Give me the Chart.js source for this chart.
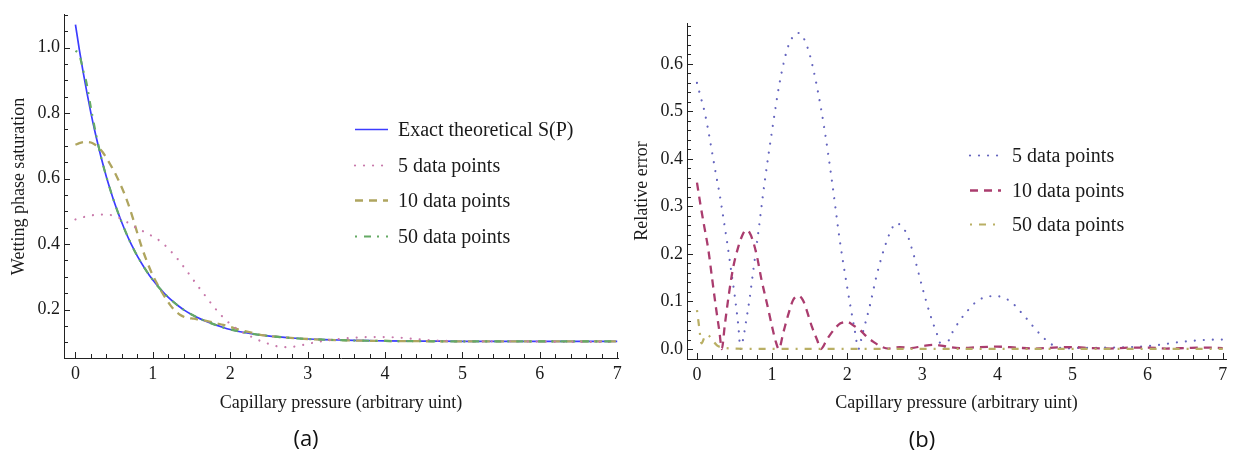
<!DOCTYPE html>
<html><head><meta charset="utf-8">
<script src="https://cdn.jsdelivr.net/npm/chart.js@4.4.1/dist/chart.umd.min.js"></script>
<style>
html,body{margin:0;padding:0;background:#fff;width:1237px;height:453px;overflow:hidden;}
#c1{position:absolute;left:0;top:0;}
#c2{position:absolute;left:620px;top:0;}
.cap{position:absolute;font-family:'Open Sans',sans-serif;font-size:22px;color:#111;transform:translate(-50%,-50%);white-space:nowrap;}
</style></head><body>
<canvas id="c1" width="630" height="453"></canvas>
<canvas id="c2" width="617" height="453"></canvas>
<div class="cap" style="left:306px;top:437px">(a)</div>
<div class="cap" style="left:922px;top:438px">(b)</div>
<script>
// ---------- Panel (a): wetting phase saturation ----------
const pExact = [0,0.05,0.1,0.15,0.2,0.25,0.3,0.35,0.4,0.45,0.5,0.55,0.6,0.65,0.7,0.75,0.8,0.9,1.0,1.1,1.2,1.3,1.4,1.5,1.6,1.7,1.8,1.9,2.0,2.2,2.4,2.6,2.8,3.0,3.2,3.4,3.6,3.8,4.0,4.5,5,5.5,6,6.5,7];
const sExact = [1.07,0.994,0.924,0.86,0.80,0.745,0.695,0.648,0.605,0.566,0.529,0.496,0.465,0.436,0.41,0.386,0.363,0.324,0.29,0.262,0.237,0.217,0.199,0.185,0.173,0.163,0.154,0.146,0.139,0.129,0.122,0.117,0.113,0.110,0.108,0.107,0.106,0.105,0.104,0.1035,0.103,0.103,0.103,0.103,0.103];

const p5 = [0,0.1,0.2,0.3,0.4,0.5,0.6,0.7,0.8,0.9,1.0,1.1,1.2,1.3,1.4,1.5,1.6,1.7,1.8,1.9,2.0,2.1,2.2,2.3,2.4,2.5,2.6,2.7,2.8,2.9,3.0,3.1,3.2,3.3,3.4,3.6,3.8,4.0,4.2,4.4,4.6,4.8,5.0,5.5,6.0,6.5,7.0];
const s5 = [0.475,0.482,0.487,0.49,0.49,0.486,0.476,0.462,0.447,0.436,0.423,0.408,0.386,0.36,0.33,0.298,0.266,0.235,0.205,0.178,0.156,0.139,0.125,0.114,0.103,0.095,0.088,0.085,0.086,0.09,0.095,0.1,0.104,0.107,0.11,0.114,0.116,0.116,0.114,0.11,0.106,0.104,0.103,0.103,0.102,0.101,0.101];

const p10 = [0,0.05,0.1,0.15,0.2,0.25,0.3,0.35,0.4,0.45,0.5,0.55,0.6,0.65,0.7,0.75,0.8,0.86,0.93,1.0,1.09,1.15,1.22,1.28,1.35,1.41,1.46,1.53,1.6,1.65,1.73,1.82,1.91,2.0,2.08,2.17,2.26,2.35,2.44,2.55,2.7,3.0,3.5,4.0,5.0,6.0,7.0];
const s10 = [0.703,0.708,0.711,0.712,0.71,0.704,0.695,0.681,0.663,0.643,0.622,0.598,0.572,0.543,0.51,0.473,0.433,0.388,0.343,0.304,0.264,0.24,0.215,0.198,0.184,0.177,0.174,0.172,0.169,0.167,0.163,0.158,0.153,0.147,0.141,0.135,0.13,0.125,0.121,0.118,0.115,0.11,0.106,0.104,0.103,0.103,0.103];

const p50 = [0,0.03,0.06,0.1,0.14,0.2,0.27,0.35,0.4,0.5,0.6,0.7,0.8,0.9,1.0,1.2,1.4,1.6,1.8,2.0,2.4,2.8,3.2,4.0,5.0,6.0,7.0];
const s50 = [0.99,0.985,0.97,0.93,0.895,0.815,0.73,0.648,0.605,0.529,0.465,0.41,0.363,0.324,0.29,0.237,0.199,0.173,0.154,0.139,0.122,0.113,0.108,0.104,0.103,0.103,0.103];

// ---------- Panel (b): relative error ----------
const pErr5 = [0,0.05,0.1,0.15,0.2,0.25,0.3,0.35,0.4,0.45,0.5,0.55,0.58,0.62,0.65,0.7,0.75,0.8,0.9,1.0,1.1,1.2,1.3,1.35,1.4,1.5,1.6,1.7,1.8,1.9,2.0,2.1,2.15,2.2,2.3,2.4,2.5,2.6,2.65,2.7,2.8,2.9,3.0,3.1,3.2,3.28,3.4,3.5,3.6,3.7,3.8,3.9,4.0,4.1,4.2,4.3,4.4,4.5,4.6,4.7,4.8,4.9,5.0,5.5,6.0,6.25,6.5,6.75,7.0];
const err5 = [0.56,0.53,0.50,0.46,0.415,0.37,0.327,0.277,0.226,0.17,0.115,0.05,0.0,0.026,0.055,0.105,0.166,0.225,0.35,0.46,0.56,0.63,0.662,0.665,0.66,0.62,0.55,0.46,0.35,0.23,0.13,0.04,0.0,0.03,0.09,0.16,0.215,0.255,0.265,0.262,0.24,0.19,0.13,0.075,0.03,0.0,0.035,0.06,0.08,0.097,0.107,0.111,0.111,0.107,0.097,0.08,0.062,0.043,0.026,0.012,0.004,0.001,0.002,0.003,0.006,0.011,0.016,0.019,0.02];

const pErr10 = [0,0.05,0.1,0.15,0.2,0.25,0.3,0.33,0.37,0.42,0.48,0.55,0.6,0.65,0.7,0.75,0.8,0.86,0.93,1.0,1.05,1.09,1.15,1.22,1.28,1.35,1.41,1.46,1.53,1.6,1.65,1.73,1.82,1.91,2.0,2.08,2.17,2.26,2.35,2.44,2.55,2.7,2.85,3.0,3.15,3.3,3.5,3.75,4.0,4.25,4.5,4.75,5.0,5.25,5.5,5.75,6.0,6.25,6.5,6.75,7.0];
const err10 = [0.35,0.30,0.255,0.21,0.15,0.09,0.035,0.0,0.05,0.11,0.17,0.215,0.238,0.25,0.245,0.225,0.194,0.145,0.097,0.047,0.015,0.0,0.035,0.075,0.103,0.112,0.103,0.082,0.047,0.019,0.0,0.02,0.04,0.054,0.057,0.05,0.04,0.026,0.015,0.006,0.001,0.004,0.002,0.006,0.009,0.006,0.002,0.004,0.005,0.003,0.001,0.003,0.004,0.002,0.001,0.003,0.003,0.001,0.002,0.003,0.002];

const pErr50 = [0,0.03,0.06,0.1,0.14,0.2,0.27,0.35,0.5,0.75,1,1.5,2,3,4,5,6,7];
const err50 = [0.082,0.045,0.012,0.025,0.03,0.02,0.007,0.003,0.001,0.0005,0.0005,0.0005,0.0005,0.0005,0.0005,0.0005,0.0005,0.0005];

const xTitle = 'Capillary pressure (arbitrary uint)';
const yTitleA = 'Wetting phase saturation';
const yTitleB = 'Relative error';

// ---------- helpers ----------
const pts = (xs, ys) => xs.map((x, i) => ({x: x, y: ys[i]}));
const SERIF = "'Liberation Serif', 'Times New Roman', serif";
const INK = '#1a1a1a';

const axisTicks = {
  id: 'axisTicks',
  afterDraw(chart, args, o) {
    const ctx = chart.ctx;
    const {left, bottom} = chart.chartArea;
    const xs = chart.scales.x, ys = chart.scales.y;
    ctx.save();
    ctx.strokeStyle = o.color; ctx.lineWidth = 1;
    xs.ticks.forEach(t => {
      const p = Math.round(xs.getPixelForValue(t.value)) + 0.5;
      const len = t.label !== '' ? o.major : o.minor;
      ctx.beginPath(); ctx.moveTo(p, bottom); ctx.lineTo(p, bottom - len); ctx.stroke();
    });
    ys.ticks.forEach(t => {
      const p = Math.round(ys.getPixelForValue(t.value)) + 0.5;
      const len = t.label !== '' ? o.major : o.minor;
      ctx.beginPath(); ctx.moveTo(left, p); ctx.lineTo(left + len, p); ctx.stroke();
    });
    ctx.restore();
  }
};

const overlayLegend = {
  id: 'overlayLegend',
  afterDraw(chart, args, o) {
    const ctx = chart.ctx;
    ctx.save();
    ctx.font = o.font; ctx.textBaseline = 'middle'; ctx.fillStyle = INK;
    chart.data.datasets.forEach((ds, i) => {
      const y = Math.round(o.y + i * o.gap) + 0.5;
      ctx.save();
      ctx.strokeStyle = ds.borderColor; ctx.lineWidth = ds.borderWidth;
      ctx.setLineDash(ds.borderDash || []); ctx.lineCap = ds.borderCapStyle || 'butt';
      ctx.beginPath(); ctx.moveTo(o.x, y); ctx.lineTo(o.x + o.len, y); ctx.stroke();
      ctx.restore();
      ctx.fillText(ds.label, o.x + o.textOffset, y + 1);
    });
    ctx.restore();
  }
};

function makeOptions(cfg) {
  return {
    responsive: false, animation: false, devicePixelRatio: 1,
    layout: {padding: {left: 0, top: cfg.top, right: cfg.right, bottom: 0}},
    elements: {point: {radius: 0}, line: {cubicInterpolationMode: 'monotone'}},
    plugins: {
      legend: {display: false}, tooltip: {enabled: false},
      axisTicks: {color: '#222', major: 6, minor: 4},
      overlayLegend: cfg.legend
    },
    scales: {
      x: {
        type: 'linear', min: cfg.xmin, max: cfg.xmax,
        afterFit: s => { s.height = cfg.xHeight; },
        grid: {display: false, drawTicks: false},
        border: {display: true, color: '#222', width: 1},
        ticks: {
          stepSize: 0.2, includeBounds: false, autoSkip: false, maxRotation: 0, padding: 5,
          color: INK, font: {family: SERIF, size: 18},
          callback: v => Math.abs(v - Math.round(v)) < 1e-6 ? String(Math.round(v)) : ''
        },
        title: {display: true, text: xTitle, color: INK, font: {family: SERIF, size: 18}, padding: {top: 0, bottom: 39}}
      },
      y: {
        type: 'linear', min: cfg.ymin, max: cfg.ymax,
        afterFit: s => { s.width = cfg.yWidth; },
        grid: {display: false, drawTicks: false},
        border: {display: true, color: '#222', width: 1},
        ticks: {
          stepSize: cfg.yMinor, includeBounds: false, autoSkip: false, padding: 4,
          color: INK, font: {family: SERIF, size: 18},
          callback: v => Math.abs(v / cfg.yMajor - Math.round(v / cfg.yMajor)) < 1e-6 ? v.toFixed(1) : ''
        },
        title: {display: true, text: cfg.yTitle, color: INK, font: {family: SERIF, size: 18}, padding: {top: cfg.yTitlePad, bottom: 0}}
      }
    }
  };
}

new Chart(document.getElementById('c1'), {
  type: 'line',
  data: {datasets: [
    {label: 'Exact theoretical S(P)', data: pts(pExact, sExact), borderColor: 'rgb(60,60,255)', borderWidth: 1.7, order: 10},
    {label: '5 data points', data: pts(p5, s5), borderColor: 'rgb(200,120,170)', borderWidth: 2.2, borderDash: [0.01, 9], borderCapStyle: 'round', order: 1},
    {label: '10 data points', data: pts(p10, s10), borderColor: 'rgb(175,165,95)', borderWidth: 2.3, borderDash: [8, 6], order: 1},
    {label: '50 data points', data: pts(p50, s50), borderColor: 'rgb(100,170,100)', borderWidth: 2.2, borderDash: [2, 7, 7, 6], order: 0}
  ]},
  options: makeOptions({
    top: 12, right: 12, xHeight: 95, yWidth: 64,
    xmin: -0.148, xmax: 7.01, ymin: 0.052, ymax: 1.1, yMinor: 0.05, yMajor: 0.2,
    yTitle: yTitleA, yTitlePad: 8,
    legend: {x: 355, y: 129, gap: 35.7, len: 33, textOffset: 43, font: "20px " + SERIF}
  }),
  plugins: [axisTicks, overlayLegend]
});

new Chart(document.getElementById('c2'), {
  type: 'line',
  data: {datasets: [
    {label: '5 data points', data: pts(pErr5, err5), borderColor: 'rgb(100,100,190)', borderWidth: 2.2, borderDash: [0.01, 9], borderCapStyle: 'round', order: 2},
    {label: '10 data points', data: pts(pErr10, err10), borderColor: 'rgb(170,60,110)', borderWidth: 2.3, borderDash: [8, 6], order: 1},
    {label: '50 data points', data: pts(pErr50, err50), borderColor: 'rgb(185,175,100)', borderWidth: 2.2, borderDash: [2, 7, 7, 7], order: 0}
  ]},
  options: makeOptions({
    top: 23, right: 11, xHeight: 94, yWidth: 67,
    xmin: -0.133, xmax: 7.044, ymin: -0.021, ymax: 0.686, yMinor: 0.02, yMajor: 0.1,
    yTitle: yTitleB, yTitlePad: 11,
    legend: {x: 350, y: 155, gap: 34.5, len: 31, textOffset: 42, font: "20px " + SERIF}
  }),
  plugins: [axisTicks, overlayLegend]
});
</script></body></html>
